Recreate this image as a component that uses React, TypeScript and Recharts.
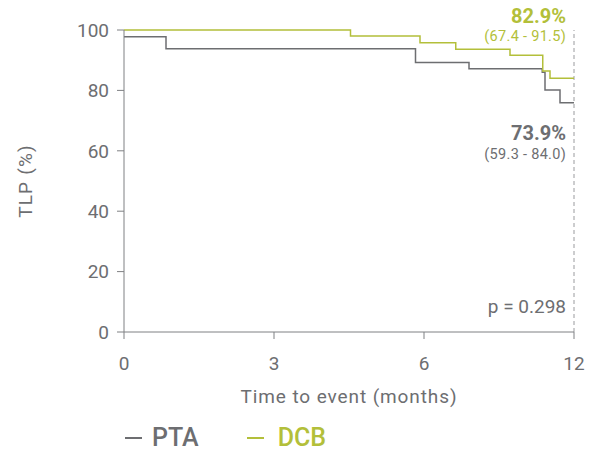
import { LineChart, Line, XAxis, YAxis, ReferenceLine, Label } from 'recharts';

// Kaplan-Meier steps: time in months, TLP in %
const ptaTime = [0, 0.84, 5.83, 7.8, 10.73, 10.84, 11.44, 12];
const ptaTlp = [97.8, 93.8, 89.2, 87.2, 86.0, 80.1, 75.9, 75.9];
const dcbTime = [0, 4.53, 5.92, 7.27, 9.44, 10.75, 11.04, 12];
const dcbTlp = [100, 98.0, 95.8, 93.6, 91.6, 86.4, 84.0, 84.0];

const monthTicks = [0, 3, 6, 12];
const tlpTicks = [0, 20, 40, 60, 80, 100];

const dcbEstimate = '82.9%';
const dcbCi = '(67.4 - 91.5)';
const ptaEstimate = '73.9%';
const ptaCi = '(59.3 - 84.0)';
const pValue = 'p = 0.298';

const GREY = '#6d6e71';
const GREEN = '#b3bf3a';
const AXIS = '#7f8083';
const FONT = 'Roboto, sans-serif';

// ticks are evenly spaced on the axis, so months map piecewise onto tick index
const toAxis = (m: number) => {
  for (let i = 1; i < monthTicks.length; i++) {
    if (m <= monthTicks[i]) {
      return i - 1 + (m - monthTicks[i - 1]) / (monthTicks[i] - monthTicks[i - 1]);
    }
  }
  return monthTicks.length - 1;
};

const toSteps = (time: number[], tlp: number[]) =>
  time.map((t, i) => ({ x: toAxis(t), y: tlp[i] }));

const series = [
  { name: 'PTA', color: GREY, data: toSteps(ptaTime, ptaTlp) },
  { name: 'DCB', color: GREEN, data: toSteps(dcbTime, dcbTlp) },
];

function Annotations({ viewBox }: any) {
  const { x, y, height } = viewBox;
  const right = x - 8;
  const bottom = y + height;
  return (
    <g fontFamily={FONT} textAnchor="end">
      <text x={right} y={y - 7} fontSize={20} fontWeight={700} fill={GREEN}>{dcbEstimate}</text>
      <text x={right} y={y + 11} fontSize={14.5} fill={GREEN} letterSpacing={0.3}>{dcbCi}</text>
      <text x={right} y={y + 110} fontSize={20} fontWeight={700} fill={GREY}>{ptaEstimate}</text>
      <text x={right} y={y + 128.5} fontSize={14.5} fill={GREY} letterSpacing={0.3}>{ptaCi}</text>
      <text x={right} y={bottom - 19} fontSize={19} fill={GREY}>{pValue}</text>
    </g>
  );
}

function YTitle({ viewBox }: any) {
  const cx = 25;
  const cy = viewBox.y + viewBox.height / 2;
  return (
    <text x={cx} y={cy} transform={`rotate(-90, ${cx}, ${cy})`} textAnchor="middle"
      dominantBaseline="central" fontFamily={FONT} fontSize={19} fill={GREY} letterSpacing={1.2}>
      TLP (%)
    </text>
  );
}

function XTitle({ viewBox }: any) {
  return (
    <text x={viewBox.x + viewBox.width / 2} y={403} textAnchor="middle"
      fontFamily={FONT} fontSize={19} fill={GREY} letterSpacing={0.9}>
      Time to event (months)
    </text>
  );
}

export default function App() {
  const tickStyle = { fontFamily: FONT, fontSize: 19, fill: GREY };
  return (
    <div style={{ position: 'absolute', left: 0, top: 0, width: 593, height: 452, background: '#fff' }}>
      <LineChart width={593} height={452} margin={{ top: 30, right: 19, bottom: 90, left: 0 }}>
        <XAxis
          type="number"
          dataKey="x"
          domain={[0, monthTicks.length - 1]}
          ticks={monthTicks.map((_, i) => i)}
          tickFormatter={(v: number) => String(monthTicks[v])}
          height={30}
          tickSize={7}
          tickMargin={18}
          stroke={AXIS}
          tick={tickStyle}
          allowDuplicatedCategory={false}
        >
          <Label content={<XTitle />} />
        </XAxis>
        <YAxis
          type="number"
          domain={[0, 100]}
          ticks={tlpTicks}
          width={124}
          tickSize={7}
          tickMargin={8}
          stroke={AXIS}
          tick={tickStyle}
        >
          <Label content={<YTitle />} />
        </YAxis>
        <ReferenceLine
          x={toAxis(12)}
          stroke="#9a9b9e"
          strokeDasharray="4 3"
          label={<Annotations />}
        />
        {series.map((s) => (
          <Line
            key={s.name}
            name={s.name}
            data={s.data}
            dataKey="y"
            type="stepAfter"
            stroke={s.color}
            strokeWidth={1.5}
            dot={false}
            isAnimationActive={false}
          />
        ))}
      </LineChart>
      <div style={{ position: 'absolute', left: 125, top: 423, display: 'flex', fontFamily: FONT, fontSize: 25, fontWeight: 500 }}>
        {series.map((s, i) => (
          <div key={s.name} style={{ display: 'flex', alignItems: 'center', color: s.color, marginRight: i === 0 ? 48 : 0 }}>
            <span style={{ display: 'inline-block', width: 17, height: 2, background: s.color, marginRight: i === 0 ? 10 : 14 }} />
            {s.name}
          </div>
        ))}
      </div>
    </div>
  );
}
